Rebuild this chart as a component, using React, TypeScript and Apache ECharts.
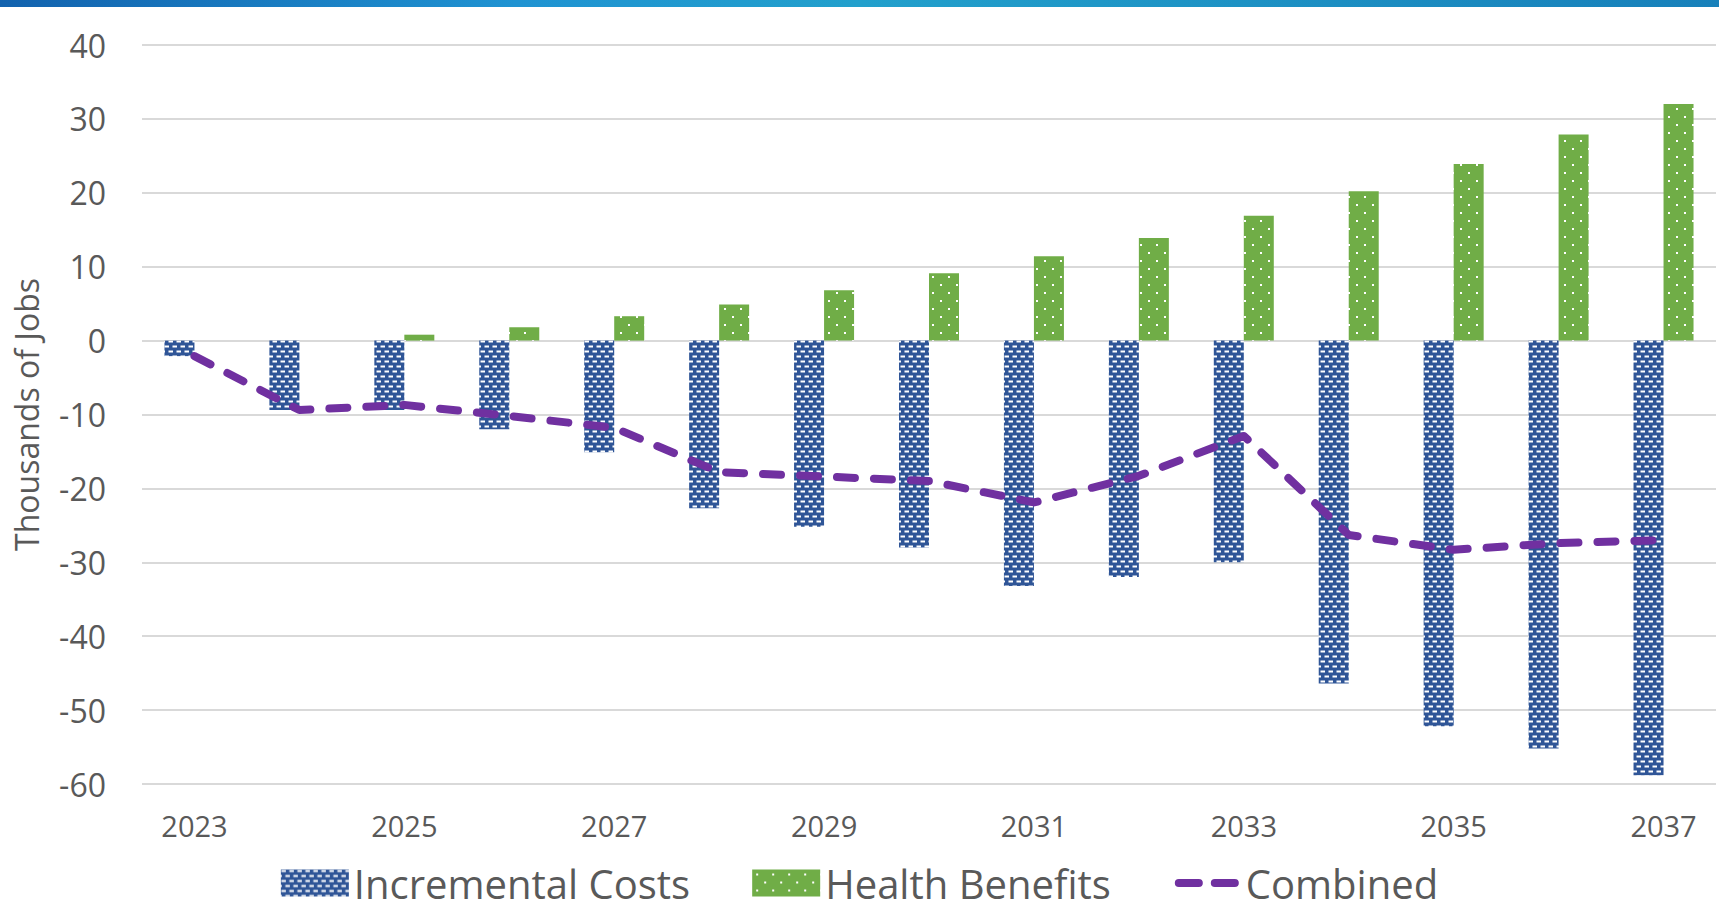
import React, { useEffect, useRef } from "react";
import * as echarts from "echarts";

const years = ["2023","2024","2025","2026","2027","2028","2029","2030","2031","2032","2033","2034","2035","2036","2037"];
const incrementalCosts = [-2.1, -9.4, -9.4, -12.0, -15.1, -22.7, -25.2, -28.0, -33.2, -32.0, -30.0, -46.4, -52.2, -55.2, -58.8];
const healthBenefits = [0, 0, 0.8, 1.8, 3.3, 4.9, 6.8, 9.1, 11.4, 13.9, 16.9, 20.2, 23.9, 27.9, 32.0];
const combined = [-2.1, -9.4, -8.7, -10.2, -11.8, -17.8, -18.4, -19.0, -21.9, -18.3, -12.9, -26.3, -28.3, -27.4, -27.0];

const FONT = "'Open Sans', 'Noto Sans', sans-serif";
const TXT = "#595959";

function svgUrl(svg: string) {
  return "data:image/svg+xml;charset=utf-8," + encodeURIComponent(svg);
}

const blueTile = svgUrl(
  "<svg xmlns='http://www.w3.org/2000/svg' width='8' height='10'>" +
    "<rect width='8' height='10' fill='#2F5597'/>" +
    "<rect x='0.5' y='0.5' width='4.5' height='2' fill='#ffffff'/>" +
    "<rect x='4.5' y='5.5' width='4.5' height='2' fill='#ffffff'/>" +
    "<rect x='-3.5' y='5.5' width='4.5' height='2' fill='#ffffff'/>" +
    "</svg>"
);
const greenTile = svgUrl(
  "<svg xmlns='http://www.w3.org/2000/svg' width='16' height='16'>" +
    "<rect width='16' height='16' fill='#70AD47'/>" +
    "<rect x='4' y='4' width='2' height='2' fill='#ffffff'/>" +
    "<rect x='12' y='12' width='2' height='2' fill='#ffffff'/>" +
    "</svg>"
);

const dashIcon =
  "image://" +
  svgUrl(
    "<svg xmlns='http://www.w3.org/2000/svg' width='68' height='27'>" +
      "<line x1='6' y1='13.5' x2='26' y2='13.5' stroke='#7030A0' stroke-width='8' stroke-linecap='round'/>" +
      "<line x1='42' y1='13.5' x2='62' y2='13.5' stroke='#7030A0' stroke-width='8' stroke-linecap='round'/>" +
      "</svg>"
  );

export default function App() {
  const ref = useRef<HTMLDivElement>(null);
  useEffect(() => {
    if (!ref.current) return;
    const chart = echarts.init(ref.current, undefined, { renderer: "svg" });
    const bluePattern: any = { image: blueTile, repeat: "repeat", imageWidth: 8, imageHeight: 10 };
    const greenPattern: any = { image: greenTile, repeat: "repeat", imageWidth: 16, imageHeight: 16 };
    chart.setOption({
      animation: false,
      backgroundColor: "#ffffff",
      graphic: [
        {
          type: "rect",
          left: 0,
          top: 0,
          shape: { width: 1719, height: 7 },
          style: {
            fill: new echarts.graphic.LinearGradient(0, 0, 1, 0, [
              { offset: 0, color: "#1262AE" },
              { offset: 0.3, color: "#1F93D2" },
              { offset: 0.5, color: "#22A0CC" },
              { offset: 1, color: "#1780BA" },
            ]),
          },
          z: 10,
        },
      ],
      grid: { left: 142, right: 3, top: 45, bottom: 133, containLabel: false },
      legend: {
        top: 858,
        left: "center",
        itemWidth: 68,
        itemHeight: 27,
        itemGap: 62,
        textStyle: { fontFamily: FONT, fontSize: 40, color: TXT, lineHeight: 40 },
        data: [
          { name: "Incremental Costs", icon: "rect" },
          { name: "Health Benefits", icon: "rect" },
          { name: "Combined", icon: dashIcon },
        ],
      },
      xAxis: {
        type: "category",
        data: years,
        axisLine: { show: false },
        axisTick: { show: false },
        axisLabel: { interval: 1, fontFamily: FONT, fontSize: 29, color: TXT, margin: 27 },
        splitLine: { show: false },
      },
      yAxis: {
        type: "value",
        min: -60,
        max: 40,
        interval: 10,
        name: "Thousands of Jobs",
        nameLocation: "middle",
        nameRotate: 90,
        nameGap: 100,
        nameTextStyle: { fontFamily: FONT, fontSize: 32, color: TXT },
        axisLine: { show: false },
        axisTick: { show: false },
        axisLabel: { fontFamily: FONT, fontSize: 32, color: TXT, margin: 36 },
        splitLine: { lineStyle: { color: "#D9D9D9", width: 2 } },
      },
      series: [
        {
          name: "Incremental Costs",
          type: "bar",
          data: incrementalCosts,
          barWidth: 30,
          barGap: "0%",
          itemStyle: { color: bluePattern },
        },
        {
          name: "Health Benefits",
          type: "bar",
          data: healthBenefits,
          barWidth: 30,
          barGap: "0%",
          itemStyle: { color: greenPattern },
        },
        {
          name: "Combined",
          type: "line",
          data: combined,
          symbol: "none",
          z: 5,
          itemStyle: { color: "#7030A0" },
          lineStyle: { color: "#7030A0", width: 8, type: [18, 19], cap: "round", join: "round" },
        },
      ],
    });
    return () => chart.dispose();
  }, []);
  return <div ref={ref} style={{ position: "fixed", left: 0, top: 0, width: 1719, height: 917 }} />;
}
